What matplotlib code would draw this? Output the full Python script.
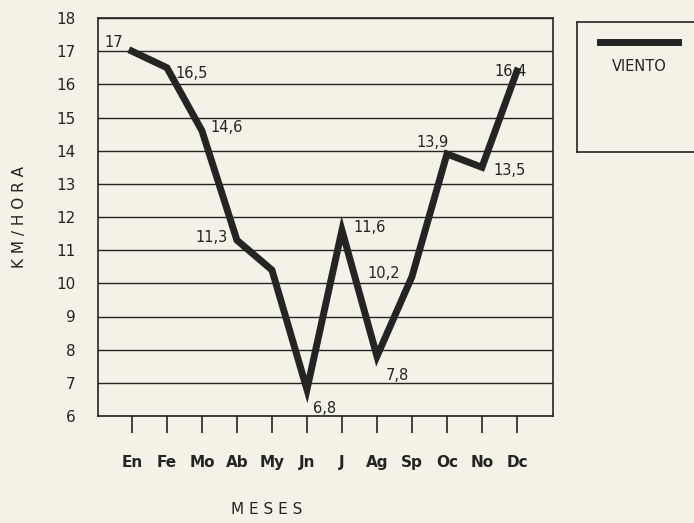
import matplotlib
matplotlib.use('Agg')
import matplotlib.pyplot as plt
from matplotlib.lines import Line2D

# Data
meses = ['En', 'Fe', 'Mo', 'Ab', 'My', 'Jn', 'J', 'Ag', 'Sp', 'Oc', 'No', 'Dc']
viento = [17.0, 16.5, 14.6, 11.3, 10.4, 6.8, 11.6, 7.8, 10.2, 13.9, 13.5, 16.4]
etiquetas = ['17', '16,5', '14,6', '11,3', None, '6,8', '11,6', '7,8', '10,2', '13,9', '13,5', '16,4']
y_ticks = list(range(6, 19))

# label offsets in points (dx, dy) per month
offs = [(-20, 6), (6, -4), (6, 2), (-30, 2), None, (4, -14), (8, 2), (6, -14), (-32, 2),
        (-22, 8), (8, -2), (-16, 0)]

BG = '#f4f1e6'
INK = '#242424'

fig = plt.figure(figsize=(6.94, 5.23), dpi=100, facecolor=BG)
ax = fig.add_axes([98/694, 1-416/523, 455/694, 398/523])
ax.set_facecolor(BG)

x = list(range(len(meses)))
ax.plot(x, viento, color=INK, lw=5, solid_joinstyle='miter', zorder=3)

for yv in y_ticks:
    ax.axhline(yv, color=INK, lw=1.0, zorder=1)

for i, lab in enumerate(etiquetas):
    if lab is None:
        continue
    ax.annotate(lab, (x[i], viento[i]), xytext=offs[i], textcoords='offset points',
                fontsize=10.5, color=INK, ha='left', va='center')

ax.set_xlim(-0.97, 12.03)
ax.set_ylim(6, 18)
ax.set_xticks(x)
ax.set_xticklabels(meses, fontsize=11, color=INK, fontweight='semibold')
ax.set_yticks(y_ticks)
ax.set_yticklabels([str(v) for v in y_ticks], fontsize=11, color=INK)
ax.tick_params(axis='x', direction='out', length=12, width=1.2, color=INK, pad=16)
ax.tick_params(axis='y', length=0, pad=16)
for s in ax.spines.values():
    s.set_color(INK)
    s.set_linewidth(1.2)

ax.set_ylabel('K M / H O R A', fontsize=11, color=INK)
ax.yaxis.set_label_coords(-0.156, 0.5)
ax.set_xlabel('M E S E S', fontsize=11, color=INK)
ax.xaxis.set_label_coords(0.371, -0.215)

# legend box
lax = fig.add_axes([577/694, 1-152/523, 130/694, 130/523])
lax.set_xlim(0, 1); lax.set_ylim(0, 1)
lax.set_facecolor(BG)
lax.set_xticks([]); lax.set_yticks([])
for s in lax.spines.values():
    s.set_color(INK)
    s.set_linewidth(1.2)
lax.add_line(Line2D([0.18, 0.78], [0.85, 0.85], color=INK, lw=5))
lax.text(0.48, 0.66, 'VIENTO', fontsize=10.5, color=INK, ha='center', va='center')

fig.savefig('out.png', dpi=100, facecolor=BG)
